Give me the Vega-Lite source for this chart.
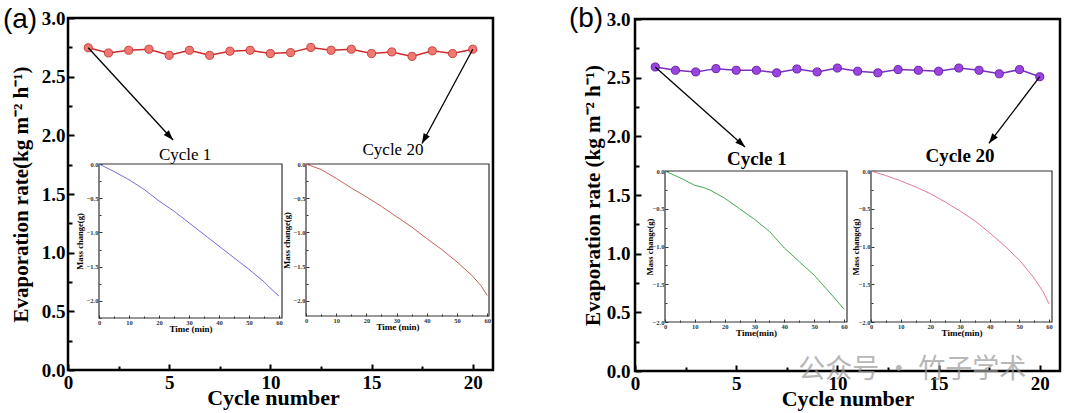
{
  "$schema": "https://vega.github.io/schema/vega-lite/v6.json",
  "width": 1080,
  "height": 413,
  "autosize": "none",
  "padding": 0,
  "background": "white",
  "config": {
    "view": {"stroke": null},
    "axis": {"grid": false, "labelFlush": false, "labelOverlap": false, "labelFont": "Liberation Serif", "titleFont": "Liberation Serif", "labelColor": "black", "titleColor": "black"}
  },
  "datasets": {
    "ma": [
      {"cycle": 1, "rate": 2.746}, {"cycle": 2, "rate": 2.702}, {"cycle": 3, "rate": 2.725}, {"cycle": 4, "rate": 2.734},
      {"cycle": 5, "rate": 2.682}, {"cycle": 6, "rate": 2.725}, {"cycle": 7, "rate": 2.682}, {"cycle": 8, "rate": 2.717},
      {"cycle": 9, "rate": 2.725}, {"cycle": 10, "rate": 2.697}, {"cycle": 11, "rate": 2.705}, {"cycle": 12, "rate": 2.749},
      {"cycle": 13, "rate": 2.725}, {"cycle": 14, "rate": 2.734}, {"cycle": 15, "rate": 2.697}, {"cycle": 16, "rate": 2.711},
      {"cycle": 17, "rate": 2.673}, {"cycle": 18, "rate": 2.72}, {"cycle": 19, "rate": 2.697}, {"cycle": 20, "rate": 2.734}
    ],
    "mb": [
      {"cycle": 1, "rate": 2.591}, {"cycle": 2, "rate": 2.563}, {"cycle": 3, "rate": 2.549}, {"cycle": 4, "rate": 2.577},
      {"cycle": 5, "rate": 2.563}, {"cycle": 6, "rate": 2.563}, {"cycle": 7, "rate": 2.541}, {"cycle": 8, "rate": 2.574},
      {"cycle": 9, "rate": 2.549}, {"cycle": 10, "rate": 2.582}, {"cycle": 11, "rate": 2.555}, {"cycle": 12, "rate": 2.541},
      {"cycle": 13, "rate": 2.569}, {"cycle": 14, "rate": 2.563}, {"cycle": 15, "rate": 2.555}, {"cycle": 16, "rate": 2.582},
      {"cycle": 17, "rate": 2.563}, {"cycle": 18, "rate": 2.533}, {"cycle": 19, "rate": 2.569}, {"cycle": 20, "rate": 2.508}
    ],
    "arra": [
      {"id": "L", "x": 1, "y": 2.746, "x2": 5.19, "y2": 1.96},
      {"id": "R", "x": 20, "y": 2.734, "x2": 17.49, "y2": 1.93}
    ],
    "arrb": [
      {"id": "L", "x": 1, "y": 2.591, "x2": 5.44, "y2": 1.91},
      {"id": "R", "x": 20, "y": 2.508, "x2": 17.49, "y2": 1.94}
    ],
    "a1": [
      {"t": 0, "m": 0}, {"t": 5, "m": -0.11}, {"t": 10, "m": -0.23}, {"t": 15, "m": -0.37}, {"t": 20, "m": -0.54},
      {"t": 25, "m": -0.69}, {"t": 30, "m": -0.86}, {"t": 35, "m": -1.03}, {"t": 40, "m": -1.2}, {"t": 45, "m": -1.37},
      {"t": 50, "m": -1.54}, {"t": 55, "m": -1.72}, {"t": 57, "m": -1.81}, {"t": 60, "m": -1.93}
    ],
    "a2": [
      {"t": 0, "m": 0}, {"t": 5, "m": -0.08}, {"t": 10, "m": -0.21}, {"t": 15, "m": -0.35}, {"t": 20, "m": -0.48},
      {"t": 25, "m": -0.62}, {"t": 30, "m": -0.77}, {"t": 35, "m": -0.92}, {"t": 40, "m": -1.09}, {"t": 45, "m": -1.25},
      {"t": 50, "m": -1.43}, {"t": 55, "m": -1.63}, {"t": 58, "m": -1.78}, {"t": 60, "m": -1.92}
    ],
    "b1": [
      {"t": 0, "m": 0}, {"t": 5, "m": -0.09}, {"t": 10, "m": -0.19}, {"t": 13, "m": -0.22}, {"t": 15, "m": -0.25},
      {"t": 20, "m": -0.36}, {"t": 25, "m": -0.5}, {"t": 30, "m": -0.64}, {"t": 35, "m": -0.8}, {"t": 40, "m": -1.02},
      {"t": 45, "m": -1.2}, {"t": 50, "m": -1.38}, {"t": 55, "m": -1.6}, {"t": 60, "m": -1.83}
    ],
    "b2": [
      {"t": 0, "m": 0}, {"t": 5, "m": -0.06}, {"t": 10, "m": -0.13}, {"t": 15, "m": -0.21}, {"t": 20, "m": -0.3},
      {"t": 25, "m": -0.41}, {"t": 30, "m": -0.53}, {"t": 35, "m": -0.66}, {"t": 40, "m": -0.82}, {"t": 45, "m": -0.99},
      {"t": 50, "m": -1.18}, {"t": 55, "m": -1.42}, {"t": 58, "m": -1.6}, {"t": 60, "m": -1.76}
    ]
  },
  "layer": [
    {
      "layer": [
        {
          "data": {"values": [{}]},
          "mark": {"type": "rect", "fill": "transparent", "stroke": "black", "strokeWidth": 2.5},
          "encoding": {
            "x": {"datum": 0, "type": "quantitative", "scale": {"domain": [0, 21], "range": [68, 493], "nice": false, "zero": false},
                  "axis": {"orient": "bottom", "offset": -43, "values": [2.5, 7.5, 12.5, 17.5], "labels": false, "domain": false, "tickSize": -4, "tickWidth": 2, "tickColor": "black", "title": null}},
            "x2": {"datum": 21},
            "y": {"datum": 0, "type": "quantitative", "scale": {"domain": [0, 3], "range": [370, 18], "nice": false, "zero": false},
                  "axis": {"orient": "left", "offset": -68, "values": [0.25, 0.75, 1.25, 1.75, 2.25, 2.75], "labels": false, "domain": false, "tickSize": -4, "tickWidth": 2, "tickColor": "black", "title": null}},
            "y2": {"datum": 3}
          }
        },
        {
          "data": {"name": "ma"},
          "mark": {"type": "line", "color": "#cc2a2a", "strokeWidth": 1.5},
          "encoding": {
            "x": {"field": "cycle", "type": "quantitative",
                  "axis": {"orient": "bottom", "offset": -43, "values": [0, 5, 10, 15, 20], "format": "d", "domain": false, "tickSize": -6, "tickWidth": 2, "tickColor": "black",
                           "labelFontSize": 19, "labelFontWeight": "bold", "labelPadding": 9,
                           "title": "Cycle number", "titleFontSize": 22, "titleFontWeight": "bold", "titlePadding": -5, "titleX": 273}},
            "y": {"field": "rate", "type": "quantitative",
                  "axis": {"orient": "left", "offset": -68, "values": [0, 0.5, 1, 1.5, 2, 2.5, 3], "format": ".1f", "domain": false, "tickSize": -6, "tickWidth": 2, "tickColor": "black",
                           "labelFontSize": 19, "labelFontWeight": "bold", "labelPadding": 9,
                           "title": "Evaporation rate(kg m⁻² h⁻¹)", "titleFontSize": 21, "titleFontWeight": "bold", "titlePadding": 10}}
          }
        },
        {
          "data": {"name": "ma"},
          "mark": {"type": "point", "filled": true, "fill": "#f07a72", "stroke": "#c83c3c", "strokeWidth": 1, "size": 65, "opacity": 1},
          "encoding": {
            "x": {"field": "cycle", "type": "quantitative", "axis": null},
            "y": {"field": "rate", "type": "quantitative", "axis": null}
          }
        },
        {
          "data": {"name": "arra"},
          "mark": {"type": "rule", "color": "black", "strokeWidth": 1.3},
          "encoding": {
            "x": {"field": "x", "type": "quantitative", "axis": null},
            "y": {"field": "y", "type": "quantitative", "axis": null},
            "x2": {"field": "x2"},
            "y2": {"field": "y2"}
          }
        },
        {
          "data": {"name": "arra"},
          "transform": [{"filter": "datum.id == 'L'"}],
          "mark": {"type": "point", "shape": "M0,0L-0.35,-1L0.35,-1Z", "filled": true, "color": "black", "opacity": 1, "size": 400, "angle": 317.4},
          "encoding": {
            "x": {"field": "x2", "type": "quantitative", "axis": null},
            "y": {"field": "y2", "type": "quantitative", "axis": null}
          }
        },
        {
          "data": {"name": "arra"},
          "transform": [{"filter": "datum.id == 'R'"}],
          "mark": {"type": "point", "shape": "M0,0L-0.35,-1L0.35,-1Z", "filled": true, "color": "black", "opacity": 1, "size": 400, "angle": 28.4},
          "encoding": {
            "x": {"field": "x2", "type": "quantitative", "axis": null},
            "y": {"field": "y2", "type": "quantitative", "axis": null}
          }
        },
        {
          "data": {"values": [{"label": "(a)"}]},
          "mark": {"type": "text", "font": "Liberation Sans", "fontSize": 28, "align": "center", "baseline": "middle", "color": "black"},
          "encoding": {
            "x": {"datum": -2.37, "type": "quantitative", "axis": null},
            "y": {"datum": 2.98, "type": "quantitative", "axis": null},
            "text": {"field": "label"}
          }
        }
      ],
      "resolve": {"axis": {"x": "independent", "y": "independent"}}
    },
    {
      "layer": [
        {
          "data": {"values": [{}]},
          "mark": {"type": "rect", "fill": "transparent", "stroke": "#333", "strokeWidth": 1.2},
          "encoding": {
            "x": {"datum": 0, "type": "quantitative", "scale": {"domain": [0, 61], "range": [99, 282], "nice": false, "zero": false},
                  "axis": {"orient": "bottom", "offset": -95, "values": [5, 15, 25, 35, 45, 55], "labels": false, "domain": false, "tickSize": -2, "tickWidth": 1, "tickColor": "#333", "title": null}},
            "x2": {"datum": 61},
            "y": {"datum": -2.25, "type": "quantitative", "scale": {"domain": [-2.25, 0], "range": [318, 164], "nice": false, "zero": false},
                  "axis": {"orient": "left", "offset": -99, "values": [-0.25, -0.75, -1.25, -1.75, -2.25], "labels": false, "domain": false, "tickSize": -2, "tickWidth": 1, "tickColor": "#333", "title": null}},
            "y2": {"datum": 0}
          }
        },
        {
          "data": {"name": "a1"},
          "mark": {"type": "line", "color": "#7a6ae0", "strokeWidth": 1},
          "encoding": {
            "x": {"field": "t", "type": "quantitative",
                  "axis": {"orient": "bottom", "offset": -95, "values": [0, 10, 20, 30, 40, 50, 60], "format": "d", "domain": false, "tickSize": -3, "tickWidth": 1, "tickColor": "#333",
                           "labelFontSize": 6.5, "labelFontWeight": "bold", "labelPadding": 4, "labelColor": "#333",
                           "title": "Time (min)", "titleFontSize": 9, "titleFontWeight": "bold", "titlePadding": -1}},
            "y": {"field": "m", "type": "quantitative",
                  "axis": {"orient": "left", "offset": -99, "values": [0, -0.5, -1, -1.5, -2], "format": ".1f", "domain": false, "tickSize": -3, "tickWidth": 1, "tickColor": "#333",
                           "labelFontSize": 6.5, "labelFontWeight": "bold", "labelPadding": 4, "labelColor": "#333",
                           "title": "Mass change(g)", "titleFontSize": 8.5, "titleFontWeight": "bold", "titlePadding": 2}}
          }
        },
        {
          "data": {"values": [{"label": "Cycle 1"}]},
          "mark": {"type": "text", "font": "Liberation Serif", "fontSize": 17, "align": "center", "baseline": "alphabetic", "dy": -4, "color": "black"},
          "encoding": {
            "x": {"datum": 28.7, "type": "quantitative", "axis": null},
            "y": {"datum": 0, "type": "quantitative", "axis": null},
            "text": {"field": "label"}
          }
        }
      ],
      "resolve": {"axis": {"x": "independent", "y": "independent"}}
    },
    {
      "layer": [
        {
          "data": {"values": [{}]},
          "mark": {"type": "rect", "fill": "transparent", "stroke": "#333", "strokeWidth": 1.2},
          "encoding": {
            "x": {"datum": 0, "type": "quantitative", "scale": {"domain": [0, 60.6], "range": [306, 489], "nice": false, "zero": false},
                  "axis": {"orient": "bottom", "offset": -97, "values": [5, 15, 25, 35, 45, 55], "labels": false, "domain": false, "tickSize": -2, "tickWidth": 1, "tickColor": "#333", "title": null}},
            "x2": {"datum": 60.6},
            "y": {"datum": -2.22, "type": "quantitative", "scale": {"domain": [-2.22, 0], "range": [316, 164], "nice": false, "zero": false},
                  "axis": {"orient": "left", "offset": -306, "values": [-0.25, -0.75, -1.25, -1.75], "labels": false, "domain": false, "tickSize": -2, "tickWidth": 1, "tickColor": "#333", "title": null}},
            "y2": {"datum": 0}
          }
        },
        {
          "data": {"name": "a2"},
          "mark": {"type": "line", "color": "#c8605a", "strokeWidth": 1},
          "encoding": {
            "x": {"field": "t", "type": "quantitative",
                  "axis": {"orient": "bottom", "offset": -97, "values": [0, 10, 20, 30, 40, 50, 60], "format": "d", "domain": false, "tickSize": -3, "tickWidth": 1, "tickColor": "#333",
                           "labelFontSize": 6.5, "labelFontWeight": "bold", "labelPadding": 4, "labelColor": "#333",
                           "title": "Time (min)", "titleFontSize": 9, "titleFontWeight": "bold", "titlePadding": -1}},
            "y": {"field": "m", "type": "quantitative",
                  "axis": {"orient": "left", "offset": -306, "values": [0, -0.5, -1, -1.5, -2], "format": ".1f", "domain": false, "tickSize": -3, "tickWidth": 1, "tickColor": "#333",
                           "labelFontSize": 6.5, "labelFontWeight": "bold", "labelPadding": 4, "labelColor": "#333",
                           "title": "Mass change(g)", "titleFontSize": 8.5, "titleFontWeight": "bold", "titlePadding": 2}}
          }
        },
        {
          "data": {"values": [{"label": "Cycle 20"}]},
          "mark": {"type": "text", "font": "Liberation Serif", "fontSize": 17, "align": "center", "baseline": "alphabetic", "dy": -9, "color": "black"},
          "encoding": {
            "x": {"datum": 28.8, "type": "quantitative", "axis": null},
            "y": {"datum": 0, "type": "quantitative", "axis": null},
            "text": {"field": "label"}
          }
        }
      ],
      "resolve": {"axis": {"x": "independent", "y": "independent"}}
    },
    {
      "layer": [
        {
          "data": {"values": [{}]},
          "mark": {"type": "rect", "fill": "transparent", "stroke": "black", "strokeWidth": 2.5},
          "encoding": {
            "x": {"datum": 0, "type": "quantitative", "scale": {"domain": [0, 21], "range": [635, 1060], "nice": false, "zero": false},
                  "axis": {"orient": "bottom", "offset": -42, "values": [2.5, 7.5, 12.5, 17.5], "labels": false, "domain": false, "tickSize": -4, "tickWidth": 2, "tickColor": "black", "title": null}},
            "x2": {"datum": 21},
            "y": {"datum": 0, "type": "quantitative", "scale": {"domain": [0, 3], "range": [371, 19], "nice": false, "zero": false},
                  "axis": {"orient": "left", "offset": -635, "values": [0.25, 0.75, 1.25, 1.75, 2.25, 2.75], "labels": false, "domain": false, "tickSize": -4, "tickWidth": 2, "tickColor": "black", "title": null}},
            "y2": {"datum": 3}
          }
        },
        {
          "data": {"name": "mb"},
          "mark": {"type": "line", "color": "#7a2fc0", "strokeWidth": 1.5},
          "encoding": {
            "x": {"field": "cycle", "type": "quantitative",
                  "axis": {"orient": "bottom", "offset": -42, "values": [0, 5, 10, 15, 20], "format": "d", "domain": false, "tickSize": -6, "tickWidth": 2, "tickColor": "black",
                           "labelFontSize": 19, "labelFontWeight": "bold", "labelPadding": 9,
                           "title": "Cycle number", "titleFontSize": 22, "titleFontWeight": "bold", "titlePadding": -5}},
            "y": {"field": "rate", "type": "quantitative",
                  "axis": {"orient": "left", "offset": -635, "values": [0, 0.5, 1, 1.5, 2, 2.5, 3], "format": ".1f", "domain": false, "tickSize": -6, "tickWidth": 2, "tickColor": "black",
                           "labelFontSize": 19, "labelFontWeight": "bold", "labelPadding": 11,
                           "title": "Evaporation rate (kg m⁻² h⁻¹)", "titleFontSize": 21, "titleFontWeight": "bold", "titlePadding": 3}}
          }
        },
        {
          "data": {"name": "mb"},
          "mark": {"type": "point", "filled": true, "fill": "#9a45e0", "stroke": "#6a1fa8", "strokeWidth": 1, "size": 65, "opacity": 1},
          "encoding": {
            "x": {"field": "cycle", "type": "quantitative", "axis": null},
            "y": {"field": "rate", "type": "quantitative", "axis": null}
          }
        },
        {
          "data": {"name": "arrb"},
          "mark": {"type": "rule", "color": "black", "strokeWidth": 1.3},
          "encoding": {
            "x": {"field": "x", "type": "quantitative", "axis": null},
            "y": {"field": "y", "type": "quantitative", "axis": null},
            "x2": {"field": "x2"},
            "y2": {"field": "y2"}
          }
        },
        {
          "data": {"name": "arrb"},
          "transform": [{"filter": "datum.id == 'L'"}],
          "mark": {"type": "point", "shape": "M0,0L-0.35,-1L0.35,-1Z", "filled": true, "color": "black", "opacity": 1, "size": 400, "angle": 311.7},
          "encoding": {
            "x": {"field": "x2", "type": "quantitative", "axis": null},
            "y": {"field": "y2", "type": "quantitative", "axis": null}
          }
        },
        {
          "data": {"name": "arrb"},
          "transform": [{"filter": "datum.id == 'R'"}],
          "mark": {"type": "point", "shape": "M0,0L-0.35,-1L0.35,-1Z", "filled": true, "color": "black", "opacity": 1, "size": 400, "angle": 37.5},
          "encoding": {
            "x": {"field": "x2", "type": "quantitative", "axis": null},
            "y": {"field": "y2", "type": "quantitative", "axis": null}
          }
        },
        {
          "data": {"values": [{"label": "(b)"}]},
          "mark": {"type": "text", "font": "Liberation Sans", "fontSize": 28, "align": "center", "baseline": "middle", "color": "black"},
          "encoding": {
            "x": {"datum": -2.42, "type": "quantitative", "axis": null},
            "y": {"datum": 3.0, "type": "quantitative", "axis": null},
            "text": {"field": "label"}
          }
        },
        {
          "data": {"values": [{"label": "公众号 · 竹子学术"}]},
          "mark": {"type": "text", "font": "Noto Sans CJK SC", "fontSize": 27, "align": "center", "baseline": "middle", "color": "#9a9a9a", "opacity": 0.7},
          "encoding": {
            "x": {"datum": 13.7, "type": "quantitative", "axis": null},
            "y": {"datum": 0.01, "type": "quantitative", "axis": null},
            "text": {"field": "label"}
          }
        }
      ],
      "resolve": {"axis": {"x": "independent", "y": "independent"}}
    },
    {
      "layer": [
        {
          "data": {"values": [{}]},
          "mark": {"type": "rect", "fill": "transparent", "stroke": "#333", "strokeWidth": 1.2},
          "encoding": {
            "x": {"datum": 0, "type": "quantitative", "scale": {"domain": [0, 61], "range": [665, 847], "nice": false, "zero": false},
                  "axis": {"orient": "bottom", "offset": -91, "values": [5, 15, 25, 35, 45, 55], "labels": false, "domain": false, "tickSize": -2, "tickWidth": 1, "tickColor": "#333", "title": null}},
            "x2": {"datum": 61},
            "y": {"datum": -2, "type": "quantitative", "scale": {"domain": [-2, 0], "range": [322, 171], "nice": false, "zero": false},
                  "axis": {"orient": "left", "offset": -665, "values": [-0.25, -0.75, -1.25, -1.75], "labels": false, "domain": false, "tickSize": -2, "tickWidth": 1, "tickColor": "#333", "title": null}},
            "y2": {"datum": 0}
          }
        },
        {
          "data": {"name": "b1"},
          "mark": {"type": "line", "color": "#45a84f", "strokeWidth": 1},
          "encoding": {
            "x": {"field": "t", "type": "quantitative",
                  "axis": {"orient": "bottom", "offset": -91, "values": [0, 10, 20, 30, 40, 50, 60], "format": "d", "domain": false, "tickSize": -3, "tickWidth": 1, "tickColor": "#333",
                           "labelFontSize": 6.5, "labelFontWeight": "bold", "labelPadding": 4, "labelColor": "#333",
                           "title": "Time(min)", "titleFontSize": 9, "titleFontWeight": "bold", "titlePadding": -1}},
            "y": {"field": "m", "type": "quantitative",
                  "axis": {"orient": "left", "offset": -665, "values": [0, -0.5, -1, -1.5, -2], "format": ".1f", "domain": false, "tickSize": -3, "tickWidth": 1, "tickColor": "#333",
                           "labelFontSize": 6.5, "labelFontWeight": "bold", "labelPadding": 4, "labelColor": "#333",
                           "title": "Mass change(g)", "titleFontSize": 8.5, "titleFontWeight": "bold", "titlePadding": -2}}
          }
        },
        {
          "data": {"values": [{"label": "Cycle 1"}]},
          "mark": {"type": "text", "font": "Liberation Serif", "fontSize": 19, "fontWeight": "bold", "align": "center", "baseline": "alphabetic", "dy": -6, "color": "black"},
          "encoding": {
            "x": {"datum": 30.8, "type": "quantitative", "axis": null},
            "y": {"datum": 0, "type": "quantitative", "axis": null},
            "text": {"field": "label"}
          }
        }
      ],
      "resolve": {"axis": {"x": "independent", "y": "independent"}}
    },
    {
      "layer": [
        {
          "data": {"values": [{}]},
          "mark": {"type": "rect", "fill": "transparent", "stroke": "#333", "strokeWidth": 1.2},
          "encoding": {
            "x": {"datum": 0, "type": "quantitative", "scale": {"domain": [0, 61], "range": [871, 1052], "nice": false, "zero": false},
                  "axis": {"orient": "bottom", "offset": -91, "values": [5, 15, 25, 35, 45, 55], "labels": false, "domain": false, "tickSize": -2, "tickWidth": 1, "tickColor": "#333", "title": null}},
            "x2": {"datum": 61},
            "y": {"datum": -2, "type": "quantitative", "scale": {"domain": [-2, 0], "range": [322, 171], "nice": false, "zero": false},
                  "axis": {"orient": "left", "offset": -871, "values": [-0.25, -0.75, -1.25, -1.75], "labels": false, "domain": false, "tickSize": -2, "tickWidth": 1, "tickColor": "#333", "title": null}},
            "y2": {"datum": 0}
          }
        },
        {
          "data": {"name": "b2"},
          "mark": {"type": "line", "color": "#e27a95", "strokeWidth": 1},
          "encoding": {
            "x": {"field": "t", "type": "quantitative",
                  "axis": {"orient": "bottom", "offset": -91, "values": [0, 10, 20, 30, 40, 50, 60], "format": "d", "domain": false, "tickSize": -3, "tickWidth": 1, "tickColor": "#333",
                           "labelFontSize": 6.5, "labelFontWeight": "bold", "labelPadding": 4, "labelColor": "#333",
                           "title": "Time(min)", "titleFontSize": 9, "titleFontWeight": "bold", "titlePadding": -1}},
            "y": {"field": "m", "type": "quantitative",
                  "axis": {"orient": "left", "offset": -871, "values": [0, -0.5, -1, -1.5, -2], "format": ".1f", "domain": false, "tickSize": -3, "tickWidth": 1, "tickColor": "#333",
                           "labelFontSize": 6.5, "labelFontWeight": "bold", "labelPadding": 4, "labelColor": "#333",
                           "title": "Mass change(g)", "titleFontSize": 8.5, "titleFontWeight": "bold", "titlePadding": -2}}
          }
        },
        {
          "data": {"values": [{"label": "Cycle 20"}]},
          "mark": {"type": "text", "font": "Liberation Serif", "fontSize": 19, "fontWeight": "bold", "align": "center", "baseline": "alphabetic", "dy": -9, "color": "black"},
          "encoding": {
            "x": {"datum": 30, "type": "quantitative", "axis": null},
            "y": {"datum": 0, "type": "quantitative", "axis": null},
            "text": {"field": "label"}
          }
        }
      ],
      "resolve": {"axis": {"x": "independent", "y": "independent"}}
    }
  ],
  "resolve": {"scale": {"x": "independent", "y": "independent"}, "axis": {"x": "independent", "y": "independent"}}
}
